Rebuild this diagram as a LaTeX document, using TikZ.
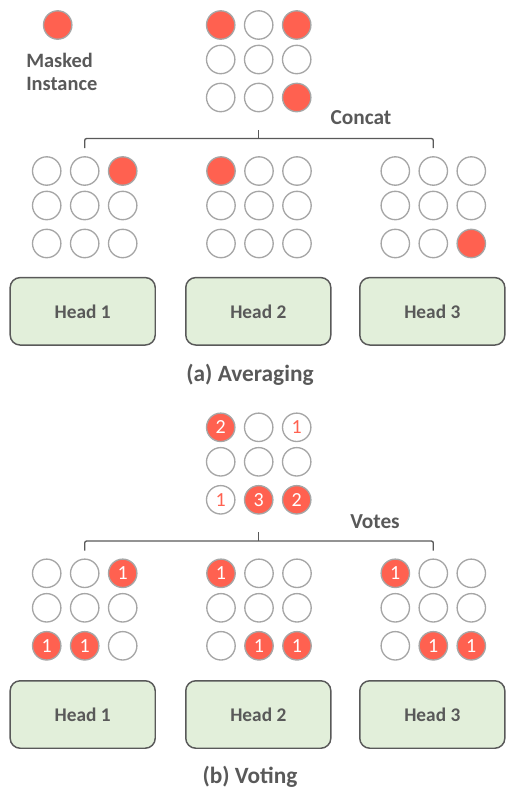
\documentclass[tikz,border=0pt]{standalone}
\usepackage{fontspec}
\setmainfont{Carlito}

\definecolor{maskred}{RGB}{255,97,80}
\definecolor{ringgray}{RGB}{166,166,166}
\definecolor{textgray}{RGB}{89,89,89}
\definecolor{headgreen}{RGB}{226,239,218}

% one 3x3 grid of instances: name, x of first column, y of first row, cells
\newcommand{\instgrid}[4]{%
  \foreach \kind/\num [count=\k from 0] in {#4} {
    \pgfmathtruncatemacro{\gr}{div(\k,3)}
    \pgfmathtruncatemacro{\gc}{mod(\k,3)}
    \pgfmathsetmacro{\dy}{\gr==2 ? 72.5 : 34.5*\gr}
    \node[\kind] (#1-\gr-\gc) at ({#2+38*\gc},{#3+\dy}) {\num};
  }}

\begin{document}
\begin{tikzpicture}[x=0.75pt,y=-0.75pt,
  every node/.style={text=textgray, font=\bfseries\fontsize{14.5}{17}\selectfont},
  unmasked/.style={circle, draw=ringgray, line width=1pt, fill=white,
    minimum size=21.3pt, inner sep=0pt, font=\fontsize{15}{15}\selectfont},
  masked/.style={unmasked, fill=maskred, text=white},
  vote/.style={unmasked, text=maskred},
  head/.style={rectangle, rounded corners=7.5pt, draw=textgray, line width=1.1pt,
    fill=headgreen, minimum width=108.8pt, minimum height=50.6pt},
  tag/.style={font=\bfseries\fontsize{16}{19}\selectfont},
  caption/.style={font=\bfseries\fontsize{17.5}{21}\selectfont},
  brace/.style={draw=textgray, line width=1pt, rounded corners=1.5pt}]

  \useasboundingbox (0,0) rectangle (506,790);

  % Legend
  \node[masked] (legend) at (57.7,25) {};
  \node[align=left, anchor=west, inner sep=0pt, font=\bfseries\fontsize{15.3}{17.3}\selectfont]
    (legendtext) at (26,71.5) {Masked\\Instance};

  % (a) Averaging
  \instgrid{avgc}{220.7}{25}{masked/{},unmasked/{},masked/{},unmasked/{},unmasked/{},unmasked/{},unmasked/{},unmasked/{},masked/{}}
  \instgrid{avg1}{46.7}{171}{unmasked/{},unmasked/{},masked/{},unmasked/{},unmasked/{},unmasked/{},unmasked/{},unmasked/{},unmasked/{}}
  \instgrid{avg2}{221}{171}{masked/{},unmasked/{},unmasked/{},unmasked/{},unmasked/{},unmasked/{},unmasked/{},unmasked/{},unmasked/{}}
  \instgrid{avg3}{395.3}{171}{unmasked/{},unmasked/{},unmasked/{},unmasked/{},unmasked/{},unmasked/{},unmasked/{},unmasked/{},masked/{}}

  \node[tag] (concat) at (361,118) {Concat};
  \coordinate (avgtick) at (0,129.5);
  \coordinate (avgbar) at (0,138.5);
  \coordinate (avgend) at (0,148);
  \draw[brace] (avg1-0-1 |- avgend) -- (avg1-0-1 |- avgbar) -- (avg3-0-1 |- avgbar) -- (avg3-0-1 |- avgend);
  \draw[brace] (avgc-2-1 |- avgbar) -- (avgc-2-1 |- avgtick);

  \node[head] (avgh1) at (82.7,311.3) {Head 1};
  \node[head] (avgh2) at (258.3,311.3) {Head 2};
  \node[head] (avgh3) at (432.3,311.3) {Head 3};
  \node[caption] (avgcap) at (250,375) {(a) Averaging};

  % (b) Voting
  \instgrid{vtc}{220.7}{427.3}{masked/2,unmasked/{},vote/1,unmasked/{},unmasked/{},unmasked/{},vote/1,masked/3,masked/2}
  \instgrid{vt1}{46.7}{573.3}{unmasked/{},unmasked/{},masked/1,unmasked/{},unmasked/{},unmasked/{},masked/1,masked/1,unmasked/{}}
  \instgrid{vt2}{221}{573.3}{masked/1,unmasked/{},unmasked/{},unmasked/{},unmasked/{},unmasked/{},unmasked/{},masked/1,masked/1}
  \instgrid{vt3}{395.3}{573.3}{masked/1,unmasked/{},unmasked/{},unmasked/{},unmasked/{},unmasked/{},unmasked/{},masked/1,masked/1}

  \node[tag] (votes) at (375,521.5) {Votes};
  \coordinate (vttick) at (0,532);
  \coordinate (vtbar) at (0,541);
  \coordinate (vtend) at (0,550.5);
  \draw[brace] (vt1-0-1 |- vtend) -- (vt1-0-1 |- vtbar) -- (vt3-0-1 |- vtbar) -- (vt3-0-1 |- vtend);
  \draw[brace] (vtc-2-1 |- vtbar) -- (vtc-2-1 |- vttick);

  \node[head] (vth1) at (82.7,714.5) {Head 1};
  \node[head] (vth2) at (258.3,714.5) {Head 2};
  \node[head] (vth3) at (432.3,714.5) {Head 3};
  \node[caption] (votecap) at (250,777) {(b) Voting};

\end{tikzpicture}
\end{document}
